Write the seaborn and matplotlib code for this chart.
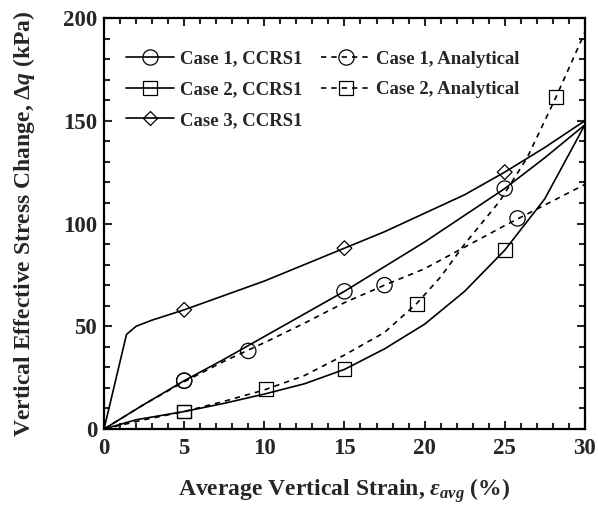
import matplotlib
matplotlib.use("Agg")
import matplotlib.pyplot as plt
from matplotlib.lines import Line2D
from matplotlib.ticker import MultipleLocator
import seaborn as sns
import pandas as pd

# Curves: average vertical strain (%) vs vertical effective stress change (kPa)
case1_ccrs_x = [0, 2.5, 5, 7.5, 10, 12.5, 15, 17.5, 20, 22.5, 25, 27.5, 30]
case1_ccrs_y = [0, 12, 23.5, 34, 45, 56, 67, 79, 91, 104, 117, 132, 148]

case2_ccrs_x = [0, 2, 5, 7.5, 10, 12.5, 15, 17.5, 20, 22.5, 25, 27.5, 30]
case2_ccrs_y = [0, 4.5, 8.5, 12.5, 17, 22, 29, 39, 51, 67, 87, 112, 148]

case3_ccrs_x = [0, 1.4, 2, 3, 5, 7.5, 10, 12.5, 15, 17.5, 20, 22.5, 25, 27.5, 30]
case3_ccrs_y = [0, 46, 50, 53, 58, 65, 72, 80, 88, 96, 105, 114, 125, 137, 150]

case1_ana_x = [0, 2.5, 5, 7.5, 10, 12.5, 15, 17.5, 20, 22.5, 25, 27.5, 30]
case1_ana_y = [0, 12, 23, 33, 42, 51.5, 61.5, 70, 78, 88.5, 99, 109, 119]

case2_ana_x = [0, 2.5, 5, 7.5, 10, 12.5, 15, 17.5, 19.5, 21, 22.5, 24.7, 26.4, 28.2, 30]
case2_ana_y = [0, 4.5, 8.5, 13.5, 19, 26, 36, 47, 61, 74, 90, 111, 132, 161.5, 193]

# Marker positions along each curve
case1_ccrs_mx = [5, 15, 25]
case1_ccrs_my = [23.5, 67, 117]
case2_ccrs_mx = [5, 15, 25]
case2_ccrs_my = [8.5, 29, 87]
case3_ccrs_mx = [5, 15, 25]
case3_ccrs_my = [58, 88, 125]
case1_ana_mx = [5, 9, 17.5, 25.8]
case1_ana_my = [23.5, 38, 70, 102.5]
case2_ana_mx = [5, 10.1, 19.5, 28.2]
case2_ana_my = [8.5, 19.5, 61, 161.5]

labels = ["Case 1, CCRS1", "Case 2, CCRS1", "Case 3, CCRS1",
          "Case 1, Analytical", "Case 2, Analytical"]

sns.set_theme(style="ticks")
plt.rcParams["font.family"] = ["Liberation Serif", "DejaVu Serif"]
plt.rcParams["font.weight"] = "bold"
plt.rcParams["mathtext.fontset"] = "custom"
plt.rcParams["mathtext.rm"] = "Liberation Serif:bold"
plt.rcParams["mathtext.it"] = "Liberation Serif:italic:bold"
plt.rcParams["mathtext.bf"] = "Liberation Serif:bold"

fig = plt.figure(figsize=(5.98, 5.08), dpi=100)
ax = fig.add_axes([0.174, 0.1555, 0.804, 0.809])

dash = (0, (3.2, 3.0))
series = [
    (case1_ccrs_x, case1_ccrs_y, case1_ccrs_mx, case1_ccrs_my, "-", "o", 11),
    (case2_ccrs_x, case2_ccrs_y, case2_ccrs_mx, case2_ccrs_my, "-", "s", 10),
    (case3_ccrs_x, case3_ccrs_y, case3_ccrs_mx, case3_ccrs_my, "-", "D", 7.5),
    (case1_ana_x, case1_ana_y, case1_ana_mx, case1_ana_my, dash, "o", 11),
    (case2_ana_x, case2_ana_y, case2_ana_mx, case2_ana_my, dash, "s", 10),
]

lw = 1.2
handles = []
for (x, y, mx, my, ls, mk, ms), lab in zip(series, labels):
    df = pd.DataFrame({"strain": x, "dq": y})
    sns.lineplot(data=df, x="strain", y="dq", ax=ax, color="black",
                 linewidth=lw, linestyle=ls, sort=False, estimator=None)
    mdf = pd.DataFrame({"strain": mx, "dq": my})
    sns.scatterplot(data=mdf, x="strain", y="dq", ax=ax, marker=mk,
                    s=ms ** 2, facecolor="none", edgecolor="black",
                    linewidth=0.9, zorder=3)
    handles.append(Line2D([], [], color="black", linestyle=ls, linewidth=lw,
                          marker=mk, markersize=ms, markerfacecolor="none",
                          markeredgecolor="black", markeredgewidth=0.9))

ax.set_xlim(0, 30)
ax.set_ylim(0, 200)
ax.xaxis.set_major_locator(MultipleLocator(5))
ax.xaxis.set_minor_locator(MultipleLocator(1))
ax.yaxis.set_major_locator(MultipleLocator(50))
ax.yaxis.set_minor_locator(MultipleLocator(10))
ax.tick_params(which="both", direction="in", top=True, right=True,
               width=1.5, labelsize=16.5)
ax.tick_params(axis="x", which="major", pad=6.5)
ax.tick_params(axis="y", which="major", pad=5)
ax.tick_params(which="major", length=6)
ax.tick_params(which="minor", length=4)
for lab in ax.get_xticklabels() + ax.get_yticklabels():
    lab.set_fontweight("bold")
for sp in ax.spines.values():
    sp.set_linewidth(1.6)
    sp.set_color("black")

ax.set_xlabel(r"Average Vertical Strain, $\mathit{\varepsilon_{avg}}$ (%)",
              fontsize=17, fontweight="bold")
ax.set_ylabel(r"Vertical Effective Stress Change, $\Delta\mathit{q}$ (kPa)",
              fontsize=17, fontweight="bold")
ax.xaxis.set_label_coords(0.5, -0.114)
ax.yaxis.set_label_coords(-0.139, 0.5)

ax.legend(handles, labels, ncol=2,
          loc="upper left", bbox_to_anchor=(0.01, 0.962), frameon=False,
          prop={"family": "Liberation Serif", "weight": "bold", "size": 13.5},
          handlelength=2.6, handletextpad=0.3, columnspacing=1.0,
          labelspacing=0.72)

fig.savefig("out.png", dpi=100)
